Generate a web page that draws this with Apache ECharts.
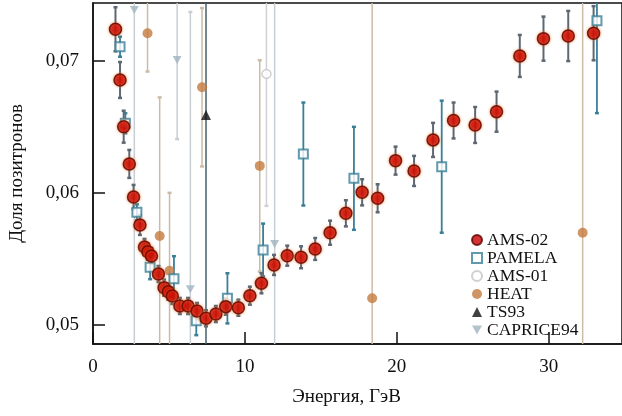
<!DOCTYPE html>
<html><head><meta charset="utf-8">
<script src="https://cdn.jsdelivr.net/npm/echarts@6/dist/echarts.min.js"></script>
<style>html,body{margin:0;padding:0;background:#fff}#c{width:622px;height:416px}</style>
</head><body><div id="c"></div>
<script>
const xTicks = [0, 10, 20, 30];
const yTicks = [0.05, 0.06, 0.07];

const amsX = [1.48,1.78,2.02,2.39,2.67,3.09,3.39,3.61,3.85,4.31,4.68,4.96,5.22,5.72,6.26,6.85,7.44,8.09,8.74,9.57,10.33,11.09,11.92,12.79,13.70,14.63,15.61,16.65,17.72,18.74,19.92,21.14,22.39,23.74,25.16,26.57,28.10,29.66,31.29,32.96];
const amsY = [0.0724,0.06856,0.06502,0.0622,0.0597,0.05758,0.05591,0.05555,0.05523,0.05386,0.05283,0.05252,0.0522,0.05144,0.05144,0.05106,0.05051,0.05083,0.05139,0.05131,0.05222,0.05316,0.05455,0.05525,0.05513,0.05576,0.05699,0.05846,0.06005,0.0596,0.06245,0.06167,0.06402,0.06549,0.06515,0.06616,0.07038,0.07169,0.07189,0.0721];
const amsErr = [0.00167,0.00136,0.00121,0.00106,0.00091,0.00076,
  0.00061,0.00061,0.00061,0.00061,0.00061,0.00061,0.00061,
  0.00061,0.00061,0.00061,0.00061,0.00061,0.00061,0.00061,
  0.00068,0.00076,0.00076,0.00076,0.00083,0.00083,0.00091,0.00099,0.00099,0.00106,
  0.00106,0.00114,0.00129,0.00136,0.00136,0.00152,0.00159,0.00167,0.0019,0.00205];

const pamX = [1.78,2.13,2.89,3.76,5.33,6.80,8.85,11.20,13.85,17.18,22.96,33.18];
const pamY = [0.07108,0.06528,0.05854,0.05437,0.05351,0.05033,0.05202,0.05568,0.06295,0.06111,0.06199,0.07305];
const pamErr = [0.00076,0.00076,0.0006,0.0009,0.0017,0.0011,0.0019,0.002,0.0039,0.0039,0.005,0.007];

const ams01X = [11.42];
const ams01Y = [0.06902];
const ams01Err = [0.01];

const heatX = [3.59,4.39,5.04,7.18,10.98,18.38,32.24];
const heatY = [0.0721,0.05674,0.05411,0.06801,0.06205,0.05202,0.05699];
const heatErr = [0.0029,0.0105,0.0059,0.006,0.008,0.03,0.03];

const tsX = [7.44];
const tsY = [0.06591];
const tsErr = [0.03];

const capX = [2.72,5.54,6.41,11.96];
const capY = [0.07386,0.07008,0.05271,0.05614];
const capErr = [0.026,0.006,0.021,0.02];

const FONT = '"Liberation Serif","Times New Roman",serif';

function pts(xs, ys) { return xs.map((x, i) => [x, ys[i]]); }
function errPts(xs, ys, es) { return xs.map((x, i) => [x, ys[i], es[i]]); }

function errSeries(xs, ys, es, color, width, z) {
  return {
    type: 'custom',
    silent: true,
    z: z,
    data: errPts(xs, ys, es),
    renderItem: function (params, api) {
      const cs = params.coordSys;
      const x = api.value(0), y = api.value(1), e = api.value(2);
      const top = api.coord([x, y + e]);
      const bot = api.coord([x, y - e]);
      const yMin = cs.y, yMax = cs.y + cs.height;
      const t = Math.max(top[1], yMin), b = Math.min(bot[1], yMax);
      const children = [{
        type: 'line',
        shape: { x1: top[0], y1: t, x2: top[0], y2: b },
        style: { stroke: color, lineWidth: width }
      }];
      [top[1], bot[1]].forEach(function (yy) {
        if (yy > yMin + 1 && yy < yMax - 1) {
          children.push({
            type: 'line',
            shape: { x1: top[0] - 2, y1: yy, x2: top[0] + 2, y2: yy },
            style: { stroke: color, lineWidth: 2.5 }
          });
        }
      });
      return { type: 'group', children: children };
    }
  };
}

const chart = echarts.init(document.getElementById('c'), null, { renderer: 'canvas' });
chart.setOption({
  animation: false,
  backgroundColor: '#fff',
  grid: { left: 90, right: -2, top: 3, bottom: 72, show: true, borderColor: '#111', borderWidth: 1.5, backgroundColor: 'transparent' },
  xAxis: {
    type: 'value', min: 0, max: 34.83,
    name: 'Энергия, ГэВ', nameLocation: 'middle', nameGap: 44,
    nameTextStyle: { fontFamily: FONT, fontSize: 19, color: '#111', padding: [0, 22, 0, 0] },
    axisLine: { show: true, onZero: false, lineStyle: { color: '#111', width: 1.5 } },
    axisTick: { show: true, inside: true, length: 12, customValues: xTicks, lineStyle: { color: '#111', width: 1.5 } },
    axisLabel: { customValues: xTicks, margin: 14, fontFamily: FONT, fontSize: 19, color: '#111' },
    splitLine: { show: false }
  },
  yAxis: {
    type: 'value', min: 0.04856, max: 0.07439,
    name: 'Доля позитронов', nameLocation: 'middle', nameGap: 66, nameRotate: 90,
    nameTextStyle: { fontFamily: FONT, fontSize: 19, color: '#111' },
    axisLine: { show: true, onZero: false, lineStyle: { color: '#111', width: 1.5 } },
    axisTick: { show: true, inside: true, length: 12, customValues: yTicks, lineStyle: { color: '#111', width: 1.5 } },
    axisLabel: { customValues: yTicks, margin: 14, fontFamily: FONT, fontSize: 19, color: '#111',
      formatter: v => v.toFixed(2).replace('.', ',') },
    splitLine: { show: false }
  },
  legend: {
    orient: 'vertical', left: 466, top: 226,
    itemWidth: 10, itemHeight: 10, itemGap: 0,
    textStyle: { fontFamily: FONT, fontSize: 17.5, color: '#111', lineHeight: 16.3 },
    data: ['AMS-02', 'PAMELA', 'AMS-01', 'HEAT', 'TS93', 'CAPRICE94']
  },
  series: [
    errSeries(capX, capY, capErr, '#c9ced3', 1.5, 1),
    errSeries(heatX, heatY, heatErr, '#cdbba6', 1.5, 1),
    errSeries(ams01X, ams01Y, ams01Err, '#d2d2d2', 1.5, 1),
    errSeries(tsX, tsY, tsErr, '#44606c', 1.5, 1),
    errSeries(pamX, pamY, pamErr, '#3a7f98', 1.8, 2),
    errSeries(amsX, amsY, amsErr, '#5e6872', 2, 3),
    { name: 'CAPRICE94', type: 'scatter', z: 4, symbol: 'path://M0,0 L10,0 L5,9 Z', symbolSize: [9, 8],
      itemStyle: { color: '#9fb4bf' }, data: pts(capX, capY) },
    { name: 'HEAT', type: 'scatter', z: 4, symbol: 'circle', symbolSize: 10,
      itemStyle: { color: '#c47a3e' }, data: pts(heatX, heatY) },
    { name: 'AMS-01', type: 'scatter', z: 4, symbol: 'circle', symbolSize: 9,
      itemStyle: { color: '#fff', borderColor: '#c4c4c4', borderWidth: 1.5 }, data: pts(ams01X, ams01Y) },
    { name: 'TS93', type: 'scatter', z: 4, symbol: 'triangle', symbolSize: 10,
      itemStyle: { color: '#111' }, data: pts(tsX, tsY) },
    { name: 'PAMELA', type: 'scatter', z: 5, symbol: 'rect', symbolSize: 9,
      itemStyle: { color: '#fff', borderColor: '#3a7f98', borderWidth: 2 }, data: pts(pamX, pamY) },
    { name: 'AMS-02', type: 'scatter', z: 6, symbol: 'circle', symbolSize: 12,
      itemStyle: { color: '#c80000', borderColor: '#5a0000', borderWidth: 1.5, shadowBlur: 3, shadowColor: 'rgba(240,120,40,0.8)' },
      data: pts(amsX, amsY) }
  ]
});
</script></body></html>
